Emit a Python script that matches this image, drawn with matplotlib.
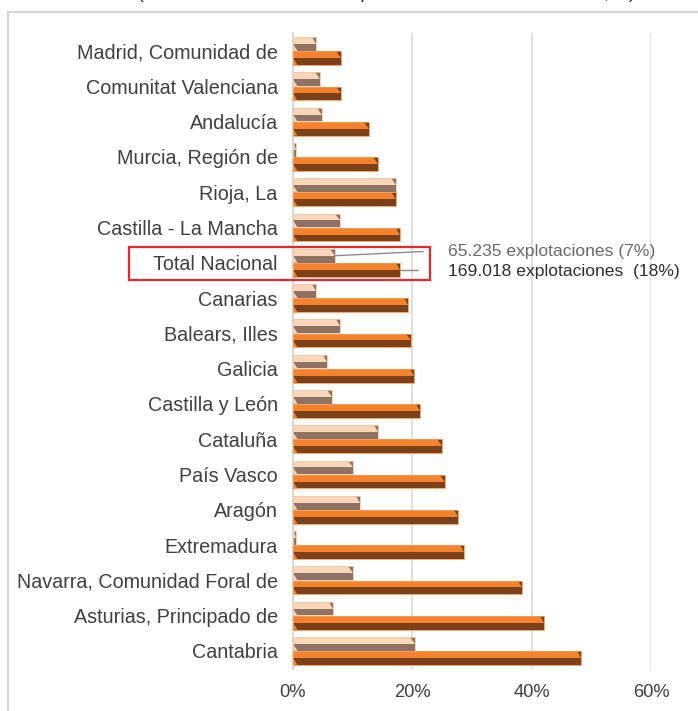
import matplotlib
matplotlib.use("Agg")
import matplotlib.pyplot as plt
from matplotlib.patches import Rectangle

plt.rcParams['font.family'] = ['Liberation Sans', 'DejaVu Sans']

categories = [
    "Madrid, Comunidad de", "Comunitat Valenciana", "Andalucía",
    "Murcia, Región de", "Rioja, La", "Castilla - La Mancha",
    "Total Nacional", "Canarias", "Balears, Illes", "Galicia",
    "Castilla y León", "Cataluña", "País Vasco", "Aragón",
    "Extremadura", "Navarra, Comunidad Foral de",
    "Asturias, Principado de", "Cantabria",
]
serie_a = [3.9, 4.5, 4.8, 0.45, 17.2, 7.8, 7.0, 3.9, 7.9, 5.7,
           6.5, 14.3, 10.0, 11.3, 0.45, 10.05, 6.7, 20.4]
serie_b = [8.0, 8.0, 12.7, 14.2, 17.2, 18.0, 18.0, 19.3, 19.7, 20.3,
           21.3, 24.9, 25.4, 27.7, 28.7, 38.4, 42.1, 48.3]
xticks = [0, 20, 40, 60]
xtick_labels = ["0%", "20%", "40%", "60%"]
total_labels = ["65.235 explotaciones (7%)", "169.018 explotaciones  (18%)"]

W, H = 698, 711
fig = plt.figure(figsize=(W / 100, H / 100), dpi=100)
ax = fig.add_axes([293 / W, 1 - 668.6 / H, (651 - 293) / W, (668.6 - 33.4) / H])

text_col = "#404040"
grid_col = "#d9d9d9"

bar_h = 0.39
offset = 0.2
bevel = 0.75  # width of the end caps, in % units


def bevel_bar(yc, v, top_col, bot_col, edge_col):
    # upper half (lighter) and lower half (darker); axis is inverted
    ax.barh(yc - bar_h / 4, v, height=bar_h / 2, color=top_col, linewidth=0, zorder=3)
    ax.barh(yc + bar_h / 4, v, height=bar_h / 2, color=bot_col, linewidth=0, zorder=3)
    d = min(bevel, v / 2)
    top, mid, bot = yc - bar_h / 2, yc, yc + bar_h / 2
    ax.fill([v - d, v, v], [top, top, mid], color=bot_col, linewidth=0, zorder=4)
    ax.fill([0, d, 0], [mid, bot, bot], color=top_col, linewidth=0, zorder=4)
    ax.add_patch(Rectangle((0, top), v, bar_h, fill=False, edgecolor=edge_col,
                           linewidth=0.6, zorder=5))


for i, (a, b) in enumerate(zip(serie_a, serie_b)):
    bevel_bar(i - offset, a, "#f9d6b8", "#8c7364", "#f3c9a6")
    bevel_bar(i + offset, b, "#f5832d", "#7d4119", "#f39a55")

ax.set_xlim(0, 60)
ax.set_ylim(len(categories) - 0.5, -0.5)
ax.set_yticks(range(len(categories)))
ax.set_yticklabels(categories, fontsize=14.2, color=text_col)
ax.set_xticks(xticks)
ax.set_xticklabels(xtick_labels, fontsize=13.2, color=text_col)
ax.tick_params(axis="both", length=0)
ax.tick_params(axis="y", pad=11)
ax.tick_params(axis="x", pad=11)
for x in xticks[1:]:
    ax.axvline(x, color=grid_col, linewidth=1.2, zorder=1)
for s in ["top", "right", "bottom"]:
    ax.spines[s].set_visible(False)
ax.spines["left"].set_color("#cfcfcf")
ax.spines["left"].set_linewidth(1.2)
ax.patch.set_alpha(0)

# Total Nacional callout
it = categories.index("Total Nacional")
ya = it - offset
yb = it + offset
ax.plot([serie_a[it], 21.8], [ya, ya - 0.12], color="#8c8c8c", linewidth=1, zorder=6)
ax.plot([serie_b[it], 21.0], [yb, yb], color="#8c8c8c", linewidth=1, zorder=6)
ax.text(26.0, ya - 0.12, total_labels[0], fontsize=12.6, color="#6a6a6a",
        va="center", ha="left")
ax.text(26.0, yb + 0.05, total_labels[1], fontsize=12.6, color="#2e2e2e",
        va="center", ha="left")
fig.patches.append(Rectangle((129 / W, 1 - 280 / H), (430 - 129) / W, 33 / H,
                             transform=fig.transFigure, fill=False,
                             edgecolor="#e8262b", linewidth=1.6, zorder=10))

# outer frame
fig.patches.append(Rectangle((8 / W, -0.05), 1.2, 1.05 - 12 / H,
                             transform=fig.transFigure, fill=False,
                             edgecolor="#d6d6d6", linewidth=1.6))

# heading, mostly above the visible area
fig.text(386 / W, 1 + 1.0 / H,
         "(Peso sobre el total de las explotaciones de cada comunidad, %)",
         ha="center", va="baseline", fontsize=12.4, color="#1a1a1a")

fig.savefig("out.png", dpi=100)
